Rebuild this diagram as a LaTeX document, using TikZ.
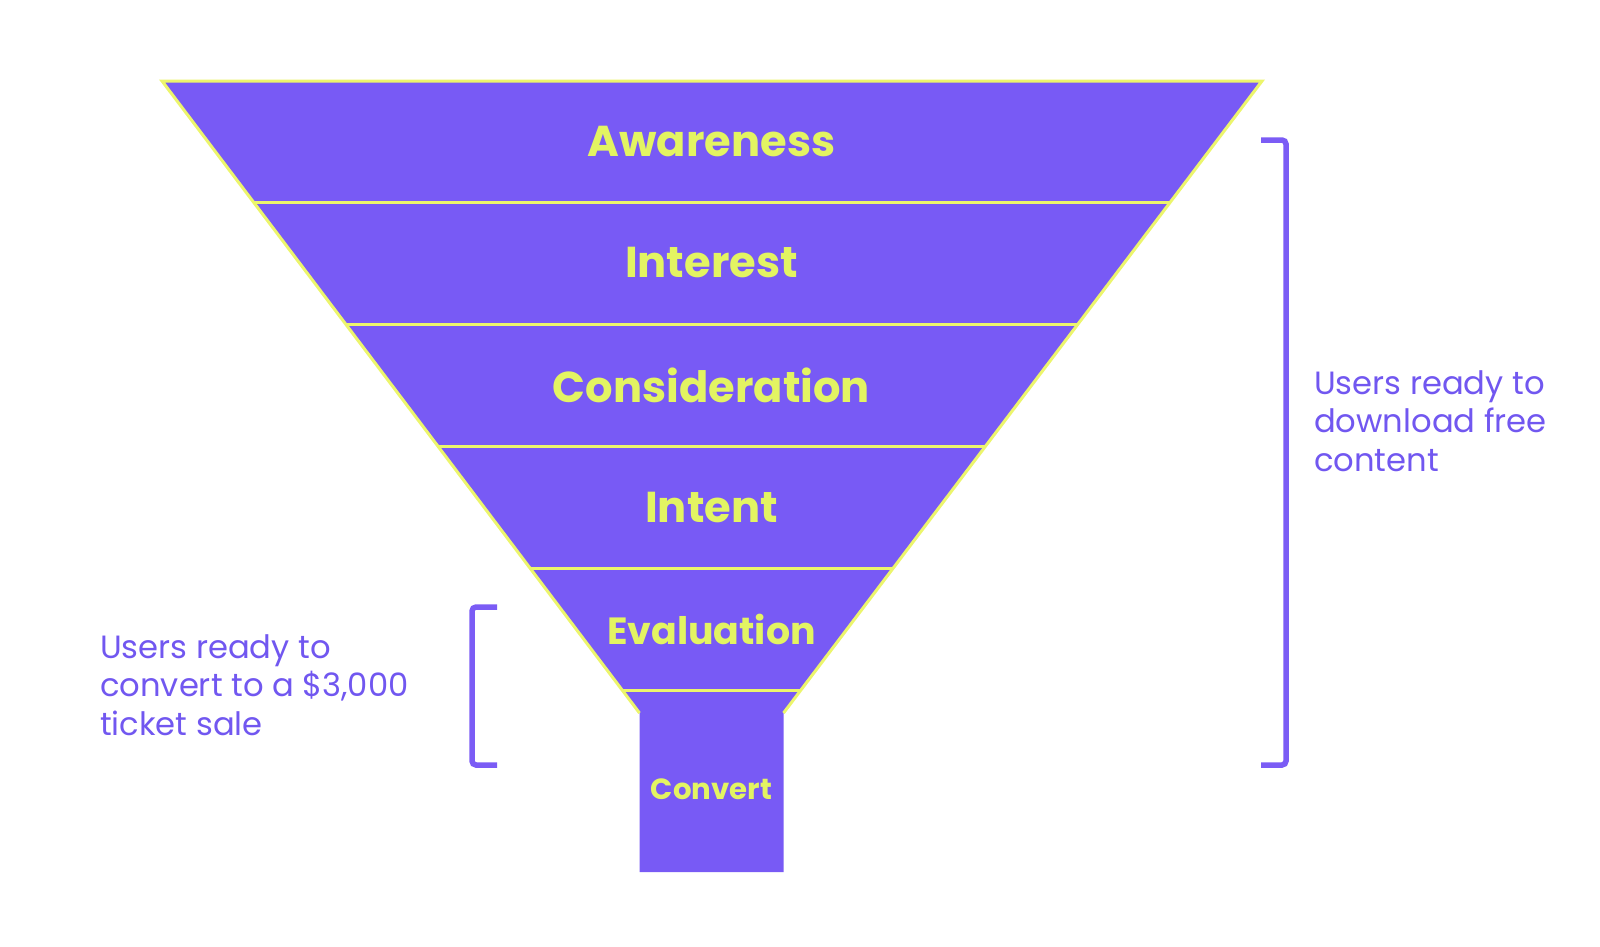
\documentclass[tikz,border=0pt]{standalone}
\usepackage{fontspec}
\setmainfont{Poppins}
\definecolor{funnel}{HTML}{785AF5}
\definecolor{edge}{HTML}{ECF56C}
\definecolor{lbl}{HTML}{E3F462}
\definecolor{brk}{HTML}{7B5CF5}
\definecolor{note}{HTML}{7157F0}
\begin{document}
\begin{tikzpicture}[x=1pt,y=-1pt,
  stage/.style={text=lbl,font=\fontsize{43.2}{52}\selectfont\bfseries,anchor=center,inner sep=0pt},
  notetext/.style={text=note,font=\fontsize{32.2}{38.3}\selectfont,align=left,inner sep=0pt},
  sep/.style={draw=edge,line width=3pt},
  bracket/.style={draw=brk,line width=5.5pt,rounded corners=4pt}]
\useasboundingbox (0,0) rectangle (1600,946);
% funnel body
\fill[funnel] (162,81) -- (1262,81) -- (783.5,713) -- (783.5,872) -- (639.5,872) -- (639.5,713) -- cycle;
% outline
\draw[sep,line join=miter] (639.5,713) -- (162,81) -- (1262,81) -- (783.5,713);
% separators
\foreach \y/\h in {202.8/457.9, 324.6/365.8, 446.4/273.8, 568.2/181.7, 690/89.6}
  \draw[sep] ({711.5-\h},\y) -- ({711.5+\h},\y);
% labels
\node[stage] (aw) at (711.5,141.5) {Awareness};
\node[stage] (in) at (711.5,263) {Interest};
\node[stage] (co) at (711.5,385) {Consideration};
\node[stage] (it) at (711.5,507) {Intent};
\node[stage,font=\fontsize{37.9}{45}\selectfont\bfseries] (ev) at (711.5,629.5) {Evaluation};
\node[stage,font=\fontsize{29.2}{35}\selectfont\bfseries] (cv) at (711.5,789) {Convert};
% brackets
\coordinate (rt) at (1261,140);
\coordinate (rb) at (1261,765);
\draw[bracket] (rt) -- (1286,140) -- (1286,765) -- (rb);
\coordinate (lt) at (497,607);
\coordinate (lb) at (497,765);
\draw[bracket] (lt) -- (472,607) -- (472,765) -- (lb);
% notes
\node[notetext,anchor=west] (rn) at (1314,421) {Users ready to\\download free\\content};
\node[notetext,anchor=west] (ln) at (100,685) {Users ready to\\convert to a \$3,000\\ticket sale};
\end{tikzpicture}
\end{document}
